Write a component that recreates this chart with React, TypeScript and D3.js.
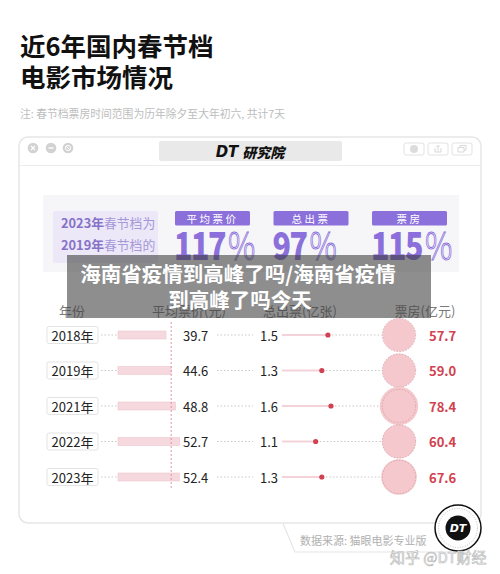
import React from "react";
import * as d3 from "d3";

const years = ["2018年", "2019年", "2021年", "2022年", "2023年"];
const avgPrice = [39.7, 44.6, 48.8, 52.7, 52.4];
const tickets = [1.5, 1.3, 1.6, 1.1, 1.3];
const boxOffice = [57.7, 59.0, 78.4, 60.4, 67.6];
const statLabels = ["平均票价", "总出票", "票房"];
const statValues = [117, 97, 115];
const colHeaders = ["年份", "平均票价(元)", "总出票(亿张)", "票房(亿元)"];
const refIndex = 1; // 2019

const FONT = "'Noto Sans CJK SC', 'Noto Sans', sans-serif";
const PURPLE = "#8b70dc";
const RED = "#d2414f";

export default function App() {
  const rowY = d3.scalePoint<string>().domain(years).range([335, 477]);
  const priceX = d3.scaleLinear().domain([-6, 53]).range([118, 180]);
  const ticketX = d3.scaleLinear().domain([0, 1.6]).range([282, 331]);
  const boxR = d3.scaleSqrt().domain([0, 78.4]).range([0, 19.2]);
  const statX = d3.scalePoint<string>().domain(statLabels).range([175, 372]);
  const circleX = 399;

  return (
    <div style={{ position: "absolute", left: 0, top: 0 }}>
      <svg width={500} height={574} style={{ display: "block", fontFamily: FONT }}>
        <rect width={500} height={574} fill="#fff" />

        {/* Title */}
        <text x={20} y={44} fontSize={25.5} fontWeight={700} fill="#111" dominantBaseline="central">
          近6年国内春节档
        </text>
        <text x={20} y={75} fontSize={25.5} fontWeight={700} fill="#111" dominantBaseline="central">
          电影市场情况
        </text>
        <text x={20} y={113} fontSize={10.8} fill="#bdbdbd" dominantBaseline="central">
          注: 春节档票房时间范围为历年除夕至大年初六, 共计7天
        </text>

        {/* Card */}
        <rect x={19} y={137} width={462} height={386} rx={9} fill="#fff" stroke="#e6e6e6" strokeWidth={1.5} />
        <line x1={19} x2={481} y1={165.5} y2={165.5} stroke="#ececec" strokeWidth={1.2} />
        {[33, 51, 68].map((cx, i) => (
          <g key={i}>
            <circle cx={cx} cy={148} r={5.3} fill="#d2d2d2" />
            {i === 0 && (
              <path d={`M${cx - 2},146 L${cx + 2},150 M${cx + 2},146 L${cx - 2},150`} stroke="#fff" strokeWidth={1.2} />
            )}
            {i === 1 && <path d={`M${cx - 2.5},148 H${cx + 2.5}`} stroke="#fff" strokeWidth={1.4} />}
            {i === 2 && (
              <g>
                <circle cx={cx} cy={148} r={2.6} fill="none" stroke="#fff" strokeWidth={1} />
                <path d={`M${cx - 1.8},146.2 L${cx + 1.8},149.8`} stroke="#fff" strokeWidth={1} />
              </g>
            )}
          </g>
        ))}
        <rect x={159} y={141} width={183} height={20} rx={2} fill="#e9e9e9" />
        <text x={250} y={151.5} textAnchor="middle" dominantBaseline="central" fontSize={14} fontWeight={900} fontStyle="italic" fill="#111">
          <tspan fontFamily="'DejaVu Sans', sans-serif" fontWeight={700} fontSize={15}>DT</tspan>
          <tspan dx={4}>研究院</tspan>
        </text>
        {[404, 428, 452].map((x, i) => (
          <g key={i}>
            <rect x={x} y={143} width={20} height={12} rx={2} fill="#fff" stroke="#e2e2e2" strokeWidth={1} />
            {i === 0 && <circle cx={x + 10} cy={149} r={4} fill="#dcdcdc" />}
            {i === 1 && (
              <path d={`M${x + 7},148 V152 H${x + 13} V148 M${x + 10},151 V145.5 M${x + 8.3},147 L${x + 10},145.3 L${x + 11.7},147`} fill="none" stroke="#d5d5d5" strokeWidth={0.9} />
            )}
            {i === 2 && (
              <path d={`M${x + 6},147.5 H${x + 12} V152 H${x + 6} Z M${x + 8},147.5 V145.5 H${x + 14} V150 H${x + 12}`} fill="none" stroke="#d5d5d5" strokeWidth={0.9} />
            )}
          </g>
        ))}

        {/* Stats panel */}
        <rect x={43} y={195} width={416} height={77} fill="#f6f6f8" />
        <rect x={53} y={211} width={105} height={52} rx={2} fill="#ece8f8" />
        {["2023年", "2019年"].map((yr, i) => (
          <text key={yr} x={61} y={222 + i * 21.5} fontSize={12.8} dominantBaseline="central">
            <tspan fontWeight={700} fill="#8672c8">{yr}</tspan>
            <tspan fill="#a698d8">{i === 0 ? "春节档为" : "春节档的"}</tspan>
          </text>
        ))}
        {statLabels.map((lab, i) => {
          const x = statX(lab)!;
          return (
            <g key={lab}>
              <rect x={x} y={211} width={75} height={14.5} rx={1.5} fill={PURPLE} />
              <text x={x + 37.5} y={218.5} textAnchor="middle" dominantBaseline="central" fontSize={10.5} fill="#fff" letterSpacing={2.5}>
                {lab}
              </text>
              <g transform={`translate(${x - 1},260) scale(0.78,1)`}>
                <text x={0} y={0} fontSize={39} fontWeight={800} fill={PURPLE} letterSpacing={-2}>
                  {statValues[i]}
                  <tspan dx={4} fontWeight={300} fill="#f6f6f8" stroke={PURPLE} strokeWidth={0.9} letterSpacing={0}>%</tspan>
                </text>
              </g>
            </g>
          );
        })}

        {/* Column headers */}
        {[72, 189, 300, 425].map((x, i) => (
          <text key={i} x={x} y={310} textAnchor="middle" dominantBaseline="central" fontSize={13} fill="#7a7a7a">
            {colHeaders[i]}
          </text>
        ))}

        {/* Rows */}
        {years.map((yr, i) => {
          const y = rowY(yr)!;
          const px = priceX(avgPrice[i]);
          const tx = ticketX(tickets[i]);
          const r = boxR(boxOffice[i]);
          return (
            <g key={yr}>
              <rect x={47} y={y - 8.5} width={51} height={17} rx={2} fill="#fff" stroke="#e3e3e3" />
              <text x={72.5} y={y} textAnchor="middle" dominantBaseline="central" fontSize={13} fill="#222">
                {yr}
              </text>
              <line x1={101} x2={117} y1={y} y2={y} stroke="#c8c8c8" strokeDasharray="1.5,2" />
              <rect x={priceX.range()[0]} y={y - 4} width={px - priceX.range()[0]} height={8} fill="#f6d9df" stroke="#eec7cf" strokeWidth={0.6} />
              <text x={183} y={y} dominantBaseline="central" fontSize={13} fill="#222">
                {avgPrice[i].toFixed(1)}
              </text>
              <line x1={217} x2={253} y1={y} y2={y} stroke="#c8c8c8" strokeDasharray="1.5,2" />
              <text x={260} y={y} dominantBaseline="central" fontSize={13} fill="#222">
                {tickets[i].toFixed(1)}
              </text>
              <line x1={ticketX(0)} x2={tx} y1={y} y2={y} stroke="#f3d3d9" strokeWidth={2} />
              <line x1={tx + 4} x2={circleX - r - 1} y1={y} y2={y} stroke="#c8c8c8" strokeDasharray="1.5,2" />
              <circle cx={tx} cy={y} r={2.6} fill={RED} />
              <circle cx={circleX} cy={y} r={r} fill="#f5c8cd" />
              <circle cx={circleX} cy={y} r={boxR(boxOffice[refIndex])} fill="none" stroke="#c99aa1" strokeWidth={0.7} strokeDasharray="1.5,1.5" />
              <text x={429} y={y} dominantBaseline="central" fontSize={13} fontWeight={700} fill={RED}>
                {boxOffice[i].toFixed(1)}
              </text>
            </g>
          );
        })}
        <line x1={priceX(avgPrice[refIndex])} x2={priceX(avgPrice[refIndex])} y1={322} y2={490} stroke="#d9828d" strokeWidth={0.8} strokeDasharray="2,2" />

        {/* Footer tab */}
        <path d="M283,523.5 L295,552 L470,552" fill="none" stroke="#e6e6e6" strokeWidth={1.2} />
        <text x={300} y={540} fontSize={11} fill="#b0b0b0" dominantBaseline="central">
          数据来源: 猫眼电影专业版
        </text>

        {/* DT logo */}
        <circle cx={458} cy={528} r={23} fill="#fff" stroke="#111" strokeWidth={1.5} />
        <circle cx={458} cy={528} r={19.5} fill="none" stroke="#999" strokeWidth={0.6} strokeDasharray="1,1.5" />
        <circle cx={458} cy={528} r={12.5} fill="#111" />
        <text x={458} y={528.5} textAnchor="middle" dominantBaseline="central" fontSize={11} fontWeight={900} fontStyle="italic" fill="#fff" fontFamily="'DejaVu Sans', sans-serif">
          DT
        </text>
        <text x={390} y={556} fontSize={15} fill="#fff" stroke="#bdbdbd" strokeWidth={0.7} dominantBaseline="central">
          知乎 @DT财经
        </text>

        {/* Overlay */}
        <rect x={67} y={255} width={364} height={63} fill="rgba(60,60,60,0.58)" />
        <text x={238} y={273} textAnchor="middle" dominantBaseline="central" fontSize={20.5} fontWeight={700} fill="#fff">
          海南省疫情到高峰了吗/海南省疫情
        </text>
        <text x={240} y={299} textAnchor="middle" dominantBaseline="central" fontSize={20.5} fontWeight={700} fill="#fff">
          到高峰了吗今天
        </text>
      </svg>
    </div>
  );
}
